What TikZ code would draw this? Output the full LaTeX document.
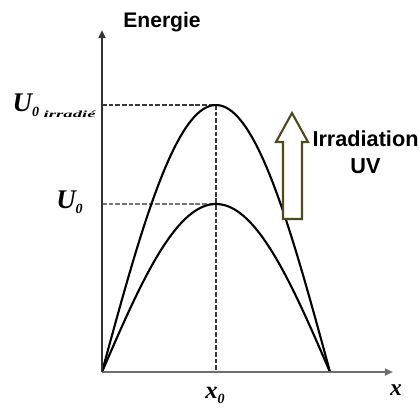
\documentclass[tikz,border=0pt]{standalone}
\usepackage{fontspec}
\usepackage{graphicx}
\setmainfont{Liberation Serif}
\setsansfont{Liberation Sans}
\usepackage{tikz}
\usetikzlibrary{positioning}
\usetikzlibrary{arrows.meta}

\definecolor{axisdark}{HTML}{333333}
\definecolor{axisgrey}{HTML}{6E6E6E}
\definecolor{dashgrey}{HTML}{3A3A3A}
\definecolor{olivedark}{HTML}{4D4A1F}

\newcommand{\lowsub}[1]{\raisebox{-0.45ex}{\fontsize{12}{12}\selectfont\bfseries #1}}

\begin{document}
\begin{tikzpicture}[
    x=0.03cm, y=-0.03cm,
    axis/.style={line width=1.7pt, -{Triangle[length=7pt,width=6pt]}},
    curve/.style={line width=1.8pt, black},
    guide/.style={line width=1.8pt, dashgrey, dash pattern=on 4pt off 1.7pt},
    uvarrow/.style={line width=1.8pt, draw=olivedark, fill=white, line join=miter},
    label serif/.style={font=\fontsize{23}{23}\selectfont\bfseries\itshape, inner sep=0pt},
    label sans/.style={font=\sffamily\bfseries\fontsize{18.5}{23}\selectfont, inner sep=0pt}
  ]
  \useasboundingbox (0,0) rectangle (419,410);

  \coordinate (O) at (102,372);
  \coordinate (yend) at (102,30);
  \coordinate (xend) at (393,372);
  \coordinate (peak_hi) at (216,105);
  \coordinate (peak_lo) at (216,204);
  \coordinate (foot) at (216,372);
  \coordinate (ax_hi) at (102,105);
  \coordinate (ax_lo) at (102,204);

  \draw[guide] (ax_hi) -- (peak_hi);
  \draw[guide, dashgrey!70] (ax_lo) -- (peak_lo);
  \draw[guide] (peak_hi) -- (foot);

  \draw[curve] plot[domain=0:180, samples=80] ({102+1.2667*\x}, {372-267*sin(\x)});
  \draw[curve] plot[domain=0:180, samples=80] ({102+1.2667*\x}, {372-168*sin(\x)});

  \draw[axis, axisgrey] (O) -- (xend);
  \draw[axis, axisdark] (O) -- (yend);

  \draw[uvarrow] (283,219) -- (283,142) -- (276,142) -- (292,113)
                 -- (308,142) -- (302,142) -- (302,219) -- cycle;

  \node[label sans, anchor=base, font=\sffamily\bfseries\fontsize{18}{18}\selectfont] (energie) at (162,27) {Energie};
  \node[label sans, anchor=base, align=center] (uv) at (365.5,173) {Irradiation\\UV};

  \node[label serif, anchor=base east] (uirr) at (96,111)
    {U\lowsub{0}\,\raisebox{-0.5ex}{\scalebox{2}[1]{\fontsize{8}{8}\selectfont\bfseries\itshape irradié}}};
  \node[label serif, anchor=base east] (uzero) at (83,208) {U\lowsub{0}};
  \node[label serif, anchor=base, font=\fontsize{21}{21}\selectfont\bfseries\itshape] (xzero) at (215,398) {x\lowsub{0}};
  \node[label serif, anchor=base, font=\fontsize{20}{20}\selectfont\bfseries\itshape] (xlab) at (396,395) {x};
\end{tikzpicture}
\end{document}
